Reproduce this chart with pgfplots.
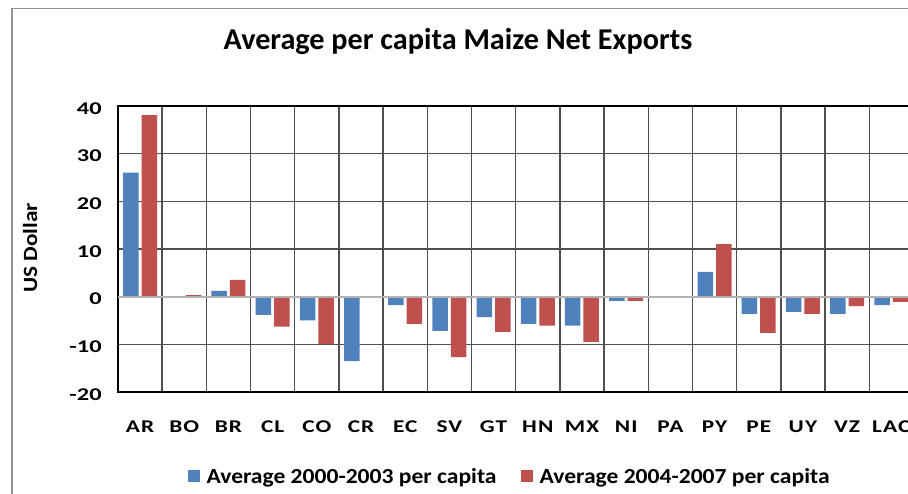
\documentclass[border=0pt]{standalone}
\usepackage{pgfplots}
\pgfplotsset{compat=1.18}
\usepackage{pgfplotstable}
\usepackage{fontspec}
\setmainfont{Carlito}
\newfontfamily\fTick{Carlito}[FakeStretch=1.36]
\newfontfamily\fCat{Carlito}[FakeStretch=1.3,LetterSpace=6]
\newfontfamily\fLeg{Carlito}[FakeStretch=1.1]
\newfontfamily\fY{Carlito}[FakeStretch=1.15]
\definecolor{cblue}{HTML}{4F81BD}
\definecolor{cred}{HTML}{C0504D}
\definecolor{gridc}{HTML}{505050}

\pgfplotstableread{
x  cat  a     b
1  AR   26.0  38.1
2  BO   0     0.3
3  BR   1.2   3.5
4  CL  -3.8  -6.3
5  CO  -5.0  -9.9
6  CR  -13.5  0
7  EC  -1.8  -5.7
8  SV  -7.2  -12.7
9  GT  -4.3  -7.4
10 HN  -5.7  -6.1
11 MX  -6.1  -9.5
12 NI  -0.9  -0.9
13 PA   0     0
14 PY   5.2   11.0
15 PE  -3.6  -7.6
16 UY  -3.2  -3.6
17 VZ  -3.6  -2.0
18 LAC -1.8  -1.1
}\datatable

\begin{document}
\begin{tikzpicture}
\useasboundingbox (0,0) rectangle (18.16cm,9.88cm);
\clip (0,0) rectangle (18.16cm,9.88cm);
\fill[white] (0,0) rectangle (18.16cm,9.88cm);
\draw[color=gray!85, line width=0.8pt] (0.24cm,-0.2cm) -- (0.24cm,9.71cm) -- (18.6cm,9.71cm);
\begin{axis}[
  at={(2.36cm,2.04cm)}, anchor=south west,
  scale only axis, width=15.908cm, height=5.72cm,
  ybar=0.06cm, bar width=0.31cm,
  xmin=0.5, xmax=18.5, ymin=-20, ymax=40,
  xtick={1,...,18},
  xticklabels={AR,BO,BR,CL,CO,CR,EC,SV,GT,HN,MX,NI,PA,PY,PE,UY,VZ,LAC},
  minor xtick={1.5,2.5,...,17.5},
  ytick={-20,-10,0,10,20,30,40},
  yticklabels={-20,-10,0,10,20,30,40},
  ymajorgrids, xminorgrids,
  major tick length=0pt, minor tick length=0pt,
  grid style={draw=gridc, line width=0.8pt},
  minor grid style={draw=gridc, line width=0.8pt},
  axis line style={draw=black, line width=0.8pt},
  xticklabel style={font=\fCat\bfseries\fontsize{10.2}{12}\selectfont, anchor=base, yshift=-0.82cm},
  yticklabel style={font=\fTick\bfseries\fontsize{10.2}{12}\selectfont, anchor=east, inner sep=0pt, xshift=-0.32cm, yshift=-0.05cm},
  title={Average per capita Maize Net Exports},
  title style={font=\bfseries\fontsize{17.2}{20}\selectfont, at={(axis description cs:0.4275,1.160)}, anchor=base},
  ylabel={US Dollar},
  ylabel style={at={(axis description cs:-0.1106,0.503)}, anchor=center, font=\fY\bfseries\fontsize{11.5}{13}\selectfont},
  legend columns=2,
  legend style={draw=none, fill=none, at={(axis description cs:0.4955,-0.298)}, anchor=center,
    font=\fLeg\bfseries\fontsize{12.2}{14}\selectfont,
    nodes={inner xsep=4pt},
    /tikz/every even column/.append style={column sep=0.34cm}},
  legend image code/.code={\fill[#1] (0cm,-0.1cm) rectangle (0.24cm,0.14cm);},
]
\addplot[fill=cblue, draw=none] table[x=x, y=a] {\datatable};
\addplot[fill=cred, draw=none] table[x=x, y=b] {\datatable};
\draw[color=gray!60, line width=1.1pt] (axis cs:0.5,0) -- (axis cs:18.5,0);
\legend{Average 2000-2003 per capita, Average 2004-2007 per capita}
\end{axis}
\end{tikzpicture}
\end{document}
